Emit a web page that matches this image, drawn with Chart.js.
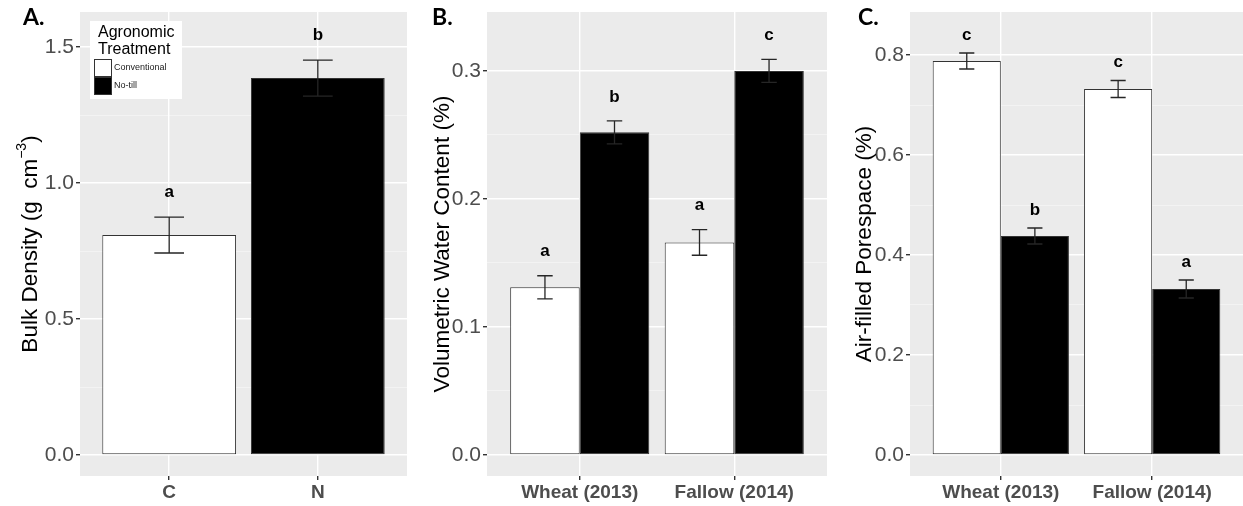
<!DOCTYPE html>
<html>
<head>
<meta charset="utf-8">
<script src="https://cdn.jsdelivr.net/npm/chart.js@4"></script>
<style>
  body { margin: 0; background: #fff; }
  #wrap { position: relative; width: 1243px; height: 506px; }
  canvas { position: absolute; top: 0; }
</style>
</head>
<body>
<div id="wrap">
  <canvas id="panelA" width="415" height="506" style="left:0"></canvas>
  <canvas id="panelB" width="415" height="506" style="left:415px"></canvas>
  <canvas id="panelC" width="413" height="506" style="left:830px"></canvas>
</div>
<script>
// treatments
const treatments = ['Conventional', 'No-till'];
const treatCodes = ['C', 'N'];

// A. bulk density (g cm-3), mean and SE per treatment
const bulkDensity = [0.809, 1.386];
const bulkDensitySE = [0.066, 0.066];
const bulkLetters = ['a', 'b'];
const bulkTicks = [0, 0.5, 1.0, 1.5];

// B. volumetric water content, per season
const seasons = ['Wheat (2013)', 'Fallow (2014)'];
const vwcConv = [0.131, 0.166];
const vwcConvSE = [0.009, 0.010];
const vwcNoTill = [0.252, 0.300];
const vwcNoTillSE = [0.009, 0.009];
const vwcConvLetters = ['a', 'a'];
const vwcNoTillLetters = ['b', 'c'];
const vwcTicks = [0, 0.1, 0.2, 0.3];

// C. air-filled porespace, per season
const afpConv = [0.788, 0.732];
const afpConvSE = [0.016, 0.017];
const afpNoTill = [0.438, 0.332];
const afpNoTillSE = [0.016, 0.018];
const afpConvLetters = ['c', 'c'];
const afpNoTillLetters = ['b', 'a'];
const afpTicks = [0, 0.2, 0.4, 0.6, 0.8];

const FONT = '"Liberation Sans", Arial, sans-serif';
const WHITE = '#ffffff';
const BLACK = '#000000';

// majors plus one minor break half way between each pair
function withMinor(majors) {
  const out = [];
  majors.forEach((v, i) => {
    out.push({ value: v });
    if (i < majors.length - 1) out.push({ value: (v + majors[i + 1]) / 2, minor: true });
  });
  return out;
}

const pts = arr => arr.map((v, i) => ({ x: i, y: v }));

// gray panel, error bars, letters, titles, legend
const decor = {
  id: 'decor',
  beforeDraw(chart) {
    const { ctx, chartArea: a } = chart;
    ctx.save();
    ctx.fillStyle = '#ebebeb';
    ctx.fillRect(a.left, a.top, a.width, a.height);
    ctx.restore();
  },
  afterDatasetsDraw(chart, args, o) {
    const { ctx, scales: { x, y } } = chart;
    const unit = x.getPixelForValue(1) - x.getPixelForValue(0);
    const half = o.cap * unit / 2;
    ctx.save();
    ctx.strokeStyle = '#262626';
    ctx.lineWidth = 1.3;
    ctx.fillStyle = '#000';
    ctx.font = 'bold 17px ' + FONT;
    ctx.textAlign = 'center';
    ctx.textBaseline = 'middle';
    chart.data.datasets.forEach((ds, di) => {
      chart.getDatasetMeta(di).data.forEach((bar, i) => {
        const v = ds.data[i].y;
        const se = ds.se[i];
        const top = y.getPixelForValue(v + se);
        const bot = y.getPixelForValue(v - se);
        ctx.beginPath();
        ctx.moveTo(bar.x, top); ctx.lineTo(bar.x, bot);
        ctx.moveTo(bar.x - half, top); ctx.lineTo(bar.x + half, top);
        ctx.moveTo(bar.x - half, bot); ctx.lineTo(bar.x + half, bot);
        ctx.stroke();
        ctx.fillText(ds.letters[i], bar.x, top - o.letterGap);
      });
    });
    ctx.restore();
  },
  afterDraw(chart, args, o) {
    const { ctx, chartArea: a } = chart;
    ctx.save();
    ctx.fillStyle = '#000';
    ctx.font = 'bold 23px Lato, "Open Sans", sans-serif';
    ctx.textAlign = 'left';
    ctx.textBaseline = 'middle';
    ctx.fillText(o.tag, o.tagX, 18);
    ctx.restore();

    // rotated axis title, pieces may be superscript
    ctx.save();
    ctx.translate(o.titleX, (a.top + a.bottom) / 2);
    ctx.rotate(-Math.PI / 2);
    ctx.fillStyle = '#000';
    ctx.textBaseline = 'middle';
    ctx.textAlign = 'left';
    const fontOf = p => (p.sup ? '14px ' : '22.5px ') + FONT;
    let total = 0;
    o.title.forEach(p => { ctx.font = fontOf(p); total += ctx.measureText(p.t).width; });
    let cx = -total / 2;
    o.title.forEach(p => {
      ctx.font = fontOf(p);
      ctx.fillText(p.t, cx, p.sup ? -9 : 0);
      cx += ctx.measureText(p.t).width;
    });
    ctx.restore();

    if (o.legend) {
      ctx.save();
      ctx.fillStyle = '#fff';
      ctx.fillRect(90, 21, 92, 78);
      ctx.fillStyle = '#000';
      ctx.font = '16px ' + FONT;
      ctx.textBaseline = 'middle';
      ctx.fillText('Agronomic', 98, 33);
      ctx.fillText('Treatment', 98, 50);
      const fills = [WHITE, BLACK];
      ctx.font = '9px ' + FONT;
      treatments.forEach((t, i) => {
        const ky = 59 + i * 18;
        ctx.fillStyle = fills[i];
        ctx.fillRect(94, ky, 18, 18);
        ctx.strokeStyle = '#333';
        ctx.lineWidth = 1;
        ctx.strokeRect(94.5, ky + 0.5, 17, 17);
        ctx.fillStyle = '#222';
        ctx.fillText(t, 114, ky + 9);
      });
      ctx.restore();
    }
  }
};

function panel(id, cats, datasets, yMin, yMax, majors, deco, yWidth, padRight) {
  return new Chart(document.getElementById(id), {
    type: 'bar',
    data: { datasets },
    options: {
      responsive: false,
      animation: false,
      events: [],
      layout: { padding: { top: 12, right: padRight, bottom: 0, left: 0 } },
      plugins: { legend: { display: false }, tooltip: { enabled: false }, decor: deco },
      scales: {
        x: {
          type: 'linear', min: -0.6, max: 1.6, offset: false,
          afterBuildTicks: s => { s.ticks = cats.map((c, i) => ({ value: i })); },
          afterFit: s => { s.height = 30; s.paddingLeft = 0; s.paddingRight = 0; },
          grid: { color: '#fff', lineWidth: 1.4, tickColor: '#333', tickLength: 4, offset: false },
          border: { display: false },
          ticks: {
            callback: v => cats[Math.round(v)],
            font: { family: FONT, size: 19, weight: 'bold' },
            color: '#4d4d4d', padding: 1, maxRotation: 0, autoSkip: false
          }
        },
        y: {
          type: 'linear', min: yMin, max: yMax,
          afterBuildTicks: s => { s.ticks = withMinor(majors); },
          afterFit: s => { s.width = yWidth; s.paddingTop = 0; s.paddingBottom = 0; },
          grid: {
            color: c => (c.tick && c.tick.minor ? 'rgba(255,255,255,0.6)' : '#fff'),
            lineWidth: c => (c.tick && c.tick.minor ? 0.7 : 1.4),
            tickColor: c => (c.tick && c.tick.minor ? 'rgba(0,0,0,0)' : '#333'),
            tickLength: 4
          },
          border: { display: false },
          ticks: {
            callback: (v, i, t) => (t[i].minor ? '' : v.toFixed(1)),
            font: { family: FONT, size: 21 },
            color: '#4d4d4d', padding: 2, autoSkip: false
          }
        }
      }
    },
    plugins: [decor]
  });
}

const barStyle = {
  categoryPercentage: 0.9, barPercentage: 1,
  borderWidth: 1, borderColor: '#333', borderSkipped: false
};

panel('panelA', treatCodes, [
  Object.assign({ data: pts(bulkDensity), se: bulkDensitySE, letters: bulkLetters,
    backgroundColor: [WHITE, BLACK] }, barStyle)
], -0.077, 1.629, bulkTicks, {
  tag: 'A.', tagX: 23, titleX: 31, cap: 0.2, letterGap: 25, legend: true,
  title: [{ t: 'Bulk Density (g  cm' }, { t: '\u22123', sup: true }, { t: ')' }]
}, 80, 8);

panel('panelB', seasons, [
  Object.assign({ label: treatments[0], data: pts(vwcConv), se: vwcConvSE, letters: vwcConvLetters,
    backgroundColor: WHITE }, barStyle),
  Object.assign({ label: treatments[1], data: pts(vwcNoTill), se: vwcNoTillSE, letters: vwcNoTillLetters,
    backgroundColor: BLACK }, barStyle)
], -0.0164, 0.346, vwcTicks, {
  tag: 'B.', tagX: 17, titleX: 28, cap: 0.1, letterGap: 24,
  title: [{ t: 'Volumetric Water Content (%)' }]
}, 72, 3);

panel('panelC', seasons, [
  Object.assign({ label: treatments[0], data: pts(afpConv), se: afpConvSE, letters: afpConvLetters,
    backgroundColor: WHITE }, barStyle),
  Object.assign({ label: treatments[1], data: pts(afpNoTill), se: afpNoTillSE, letters: afpNoTillLetters,
    backgroundColor: BLACK }, barStyle)
], -0.042, 0.886, afpTicks, {
  tag: 'C.', tagX: 28, titleX: 35, cap: 0.1, letterGap: 18,
  title: [{ t: 'Air-filled Porespace (%)' }]
}, 80, 0);
</script>
</body>
</html>
